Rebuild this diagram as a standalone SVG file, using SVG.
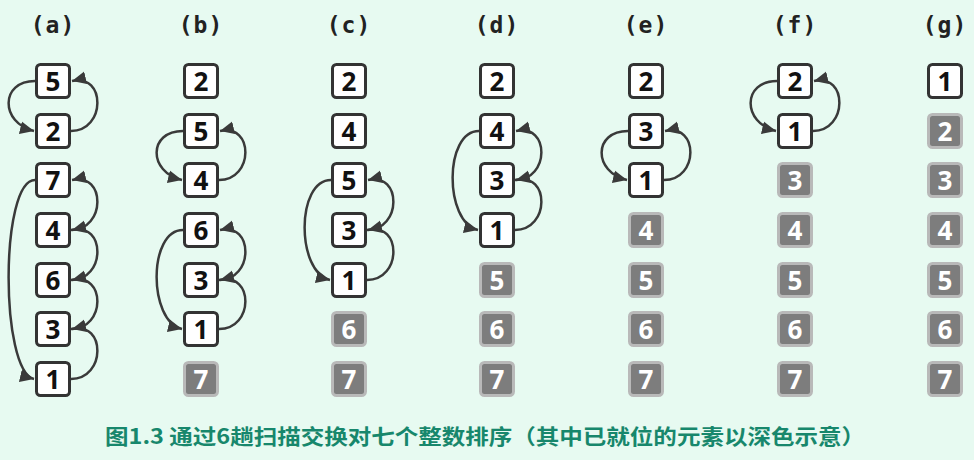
<svg xmlns="http://www.w3.org/2000/svg" width="974" height="460" viewBox="0 0 974 460">
<style>
.bg{fill:#e7faf1}
.lbl{font-family:"DejaVu Sans Mono","Liberation Mono",monospace;font-size:23px;font-weight:bold;fill:#222;text-anchor:middle;letter-spacing:1px}
.w rect{fill:#fff;stroke:#333;stroke-width:3}
.w text{fill:#111}
.g rect{fill:#7d7d7d;stroke:#b9b9b9;stroke-width:3}
.g text{fill:#fff}
.n text{font-family:"Open Sans","Liberation Sans",sans-serif;font-size:26px;font-weight:bold;text-anchor:middle}
.arc{fill:none;stroke:#3a3a3a;stroke-width:2.5;marker-end:url(#ah)}
.cap{font-family:"Noto Sans CJK SC","Noto Sans",sans-serif;font-size:21px;font-weight:bold;fill:#17876c}
</style>
<defs>
<marker id="ah" markerUnits="userSpaceOnUse" markerWidth="14" markerHeight="14" refX="11" refY="5.5" orient="auto" viewBox="0 0 11 11">
<path d="M0,0.5 L11,5.5 L0,10.5 z" fill="#3a3a3a"/>
</marker>
</defs>
<rect class="bg" x="0" y="0" width="974" height="460"/>
<g id="labels">
<text class="lbl" x="53" y="33">(a)</text>
<text class="lbl" x="201" y="33">(b)</text>
<text class="lbl" x="349" y="33">(c)</text>
<text class="lbl" x="497" y="33">(d)</text>
<text class="lbl" x="646" y="33">(e)</text>
<text class="lbl" x="795" y="33">(f)</text>
<text class="lbl" x="945" y="33">(g)</text>
</g>
<g id="connectors">
<!-- a -->
<path class="arc" d="M35,81 C0,81 0,123 34,131"/>
<path class="arc" d="M71,131 C106,131 106,73 72,81"/>
<path class="arc" d="M35,180 C0,180 0,371 34,379"/>
<path class="arc" d="M71,230 C106,230 106,172 72,180"/>
<path class="arc" d="M71,280 C106,280 106,222 72,230"/>
<path class="arc" d="M71,329 C106,329 106,272 72,280"/>
<path class="arc" d="M71,379 C106,379 106,321 72,329"/>
<!-- b -->
<path class="arc" d="M183,131 C148,131 148,172 182,180"/>
<path class="arc" d="M219,180 C254,180 254,123 220,131"/>
<path class="arc" d="M183,230 C148,230 148,321 182,329"/>
<path class="arc" d="M219,280 C254,280 254,222 220,230"/>
<path class="arc" d="M219,329 C254,329 254,272 220,280"/>
<!-- c -->
<path class="arc" d="M331,180 C296,180 296,272 330,280"/>
<path class="arc" d="M367,230 C402,230 402,172 368,180"/>
<path class="arc" d="M367,280 C402,280 402,222 368,230"/>
<!-- d -->
<path class="arc" d="M479,131 C444,131 444,222 478,230"/>
<path class="arc" d="M515,180 C550,180 550,123 516,131"/>
<path class="arc" d="M515,230 C550,230 550,172 516,180"/>
<!-- e -->
<path class="arc" d="M628,131 C593,131 593,172 627,180"/>
<path class="arc" d="M664,180 C699,180 699,123 665,131"/>
<!-- f -->
<path class="arc" d="M777,81 C742,81 742,123 776,131"/>
<path class="arc" d="M813,131 C848,131 848,73 814,81"/>
</g>
<!-- column a -->
<g id="a0" class="n w"><rect x="36.5" y="64.5" width="33" height="33" rx="4"/><text x="53" y="90.5">5</text></g>
<g id="a1" class="n w"><rect x="36.5" y="114.5" width="33" height="33" rx="4"/><text x="53" y="140.5">2</text></g>
<g id="a2" class="n w"><rect x="36.5" y="163.5" width="33" height="33" rx="4"/><text x="53" y="189.5">7</text></g>
<g id="a3" class="n w"><rect x="36.5" y="213.5" width="33" height="33" rx="4"/><text x="53" y="239.5">4</text></g>
<g id="a4" class="n w"><rect x="36.5" y="263.5" width="33" height="33" rx="4"/><text x="53" y="289.5">6</text></g>
<g id="a5" class="n w"><rect x="36.5" y="312.5" width="33" height="33" rx="4"/><text x="53" y="338.5">3</text></g>
<g id="a6" class="n w"><rect x="36.5" y="362.5" width="33" height="33" rx="4"/><text x="53" y="388.5">1</text></g>
<!-- column b -->
<g id="b0" class="n w"><rect x="184.5" y="64.5" width="33" height="33" rx="4"/><text x="201" y="90.5">2</text></g>
<g id="b1" class="n w"><rect x="184.5" y="114.5" width="33" height="33" rx="4"/><text x="201" y="140.5">5</text></g>
<g id="b2" class="n w"><rect x="184.5" y="163.5" width="33" height="33" rx="4"/><text x="201" y="189.5">4</text></g>
<g id="b3" class="n w"><rect x="184.5" y="213.5" width="33" height="33" rx="4"/><text x="201" y="239.5">6</text></g>
<g id="b4" class="n w"><rect x="184.5" y="263.5" width="33" height="33" rx="4"/><text x="201" y="289.5">3</text></g>
<g id="b5" class="n w"><rect x="184.5" y="312.5" width="33" height="33" rx="4"/><text x="201" y="338.5">1</text></g>
<g id="b6" class="n g"><rect x="184.5" y="362.5" width="33" height="33" rx="4"/><text x="201" y="388.5">7</text></g>
<!-- column c -->
<g id="c0" class="n w"><rect x="332.5" y="64.5" width="33" height="33" rx="4"/><text x="349" y="90.5">2</text></g>
<g id="c1" class="n w"><rect x="332.5" y="114.5" width="33" height="33" rx="4"/><text x="349" y="140.5">4</text></g>
<g id="c2" class="n w"><rect x="332.5" y="163.5" width="33" height="33" rx="4"/><text x="349" y="189.5">5</text></g>
<g id="c3" class="n w"><rect x="332.5" y="213.5" width="33" height="33" rx="4"/><text x="349" y="239.5">3</text></g>
<g id="c4" class="n w"><rect x="332.5" y="263.5" width="33" height="33" rx="4"/><text x="349" y="289.5">1</text></g>
<g id="c5" class="n g"><rect x="332.5" y="312.5" width="33" height="33" rx="4"/><text x="349" y="338.5">6</text></g>
<g id="c6" class="n g"><rect x="332.5" y="362.5" width="33" height="33" rx="4"/><text x="349" y="388.5">7</text></g>
<!-- column d -->
<g id="d0" class="n w"><rect x="480.5" y="64.5" width="33" height="33" rx="4"/><text x="497" y="90.5">2</text></g>
<g id="d1" class="n w"><rect x="480.5" y="114.5" width="33" height="33" rx="4"/><text x="497" y="140.5">4</text></g>
<g id="d2" class="n w"><rect x="480.5" y="163.5" width="33" height="33" rx="4"/><text x="497" y="189.5">3</text></g>
<g id="d3" class="n w"><rect x="480.5" y="213.5" width="33" height="33" rx="4"/><text x="497" y="239.5">1</text></g>
<g id="d4" class="n g"><rect x="480.5" y="263.5" width="33" height="33" rx="4"/><text x="497" y="289.5">5</text></g>
<g id="d5" class="n g"><rect x="480.5" y="312.5" width="33" height="33" rx="4"/><text x="497" y="338.5">6</text></g>
<g id="d6" class="n g"><rect x="480.5" y="362.5" width="33" height="33" rx="4"/><text x="497" y="388.5">7</text></g>
<!-- column e -->
<g id="e0" class="n w"><rect x="629.5" y="64.5" width="33" height="33" rx="4"/><text x="646" y="90.5">2</text></g>
<g id="e1" class="n w"><rect x="629.5" y="114.5" width="33" height="33" rx="4"/><text x="646" y="140.5">3</text></g>
<g id="e2" class="n w"><rect x="629.5" y="163.5" width="33" height="33" rx="4"/><text x="646" y="189.5">1</text></g>
<g id="e3" class="n g"><rect x="629.5" y="213.5" width="33" height="33" rx="4"/><text x="646" y="239.5">4</text></g>
<g id="e4" class="n g"><rect x="629.5" y="263.5" width="33" height="33" rx="4"/><text x="646" y="289.5">5</text></g>
<g id="e5" class="n g"><rect x="629.5" y="312.5" width="33" height="33" rx="4"/><text x="646" y="338.5">6</text></g>
<g id="e6" class="n g"><rect x="629.5" y="362.5" width="33" height="33" rx="4"/><text x="646" y="388.5">7</text></g>
<!-- column f -->
<g id="f0" class="n w"><rect x="778.5" y="64.5" width="33" height="33" rx="4"/><text x="795" y="90.5">2</text></g>
<g id="f1" class="n w"><rect x="778.5" y="114.5" width="33" height="33" rx="4"/><text x="795" y="140.5">1</text></g>
<g id="f2" class="n g"><rect x="778.5" y="163.5" width="33" height="33" rx="4"/><text x="795" y="189.5">3</text></g>
<g id="f3" class="n g"><rect x="778.5" y="213.5" width="33" height="33" rx="4"/><text x="795" y="239.5">4</text></g>
<g id="f4" class="n g"><rect x="778.5" y="263.5" width="33" height="33" rx="4"/><text x="795" y="289.5">5</text></g>
<g id="f5" class="n g"><rect x="778.5" y="312.5" width="33" height="33" rx="4"/><text x="795" y="338.5">6</text></g>
<g id="f6" class="n g"><rect x="778.5" y="362.5" width="33" height="33" rx="4"/><text x="795" y="388.5">7</text></g>
<!-- column g -->
<g id="g0" class="n w"><rect x="928.5" y="64.5" width="33" height="33" rx="4"/><text x="945" y="90.5">1</text></g>
<g id="g1" class="n g"><rect x="928.5" y="114.5" width="33" height="33" rx="4"/><text x="945" y="140.5">2</text></g>
<g id="g2" class="n g"><rect x="928.5" y="163.5" width="33" height="33" rx="4"/><text x="945" y="189.5">3</text></g>
<g id="g3" class="n g"><rect x="928.5" y="213.5" width="33" height="33" rx="4"/><text x="945" y="239.5">4</text></g>
<g id="g4" class="n g"><rect x="928.5" y="263.5" width="33" height="33" rx="4"/><text x="945" y="289.5">5</text></g>
<g id="g5" class="n g"><rect x="928.5" y="312.5" width="33" height="33" rx="4"/><text x="945" y="338.5">6</text></g>
<g id="g6" class="n g"><rect x="928.5" y="362.5" width="33" height="33" rx="4"/><text x="945" y="388.5">7</text></g>
<g id="caption">
<text class="cap" x="105" y="444" textLength="760" lengthAdjust="spacingAndGlyphs">图1.3 通过6趟扫描交换对七个整数排序（其中已就位的元素以深色示意）</text>
</g>
</svg>
